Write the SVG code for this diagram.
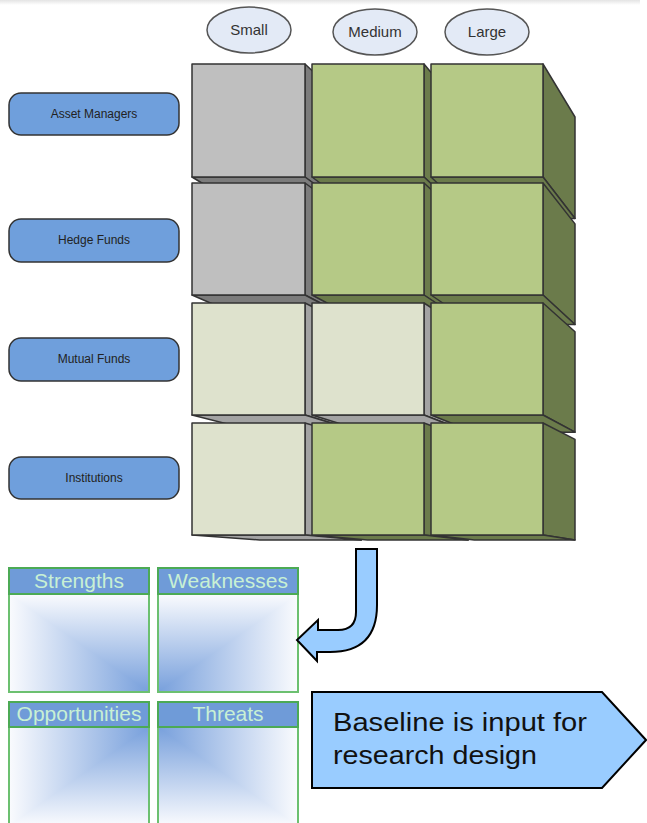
<svg xmlns="http://www.w3.org/2000/svg" width="647" height="823" viewBox="0 0 647 823">
<defs>
<linearGradient id="topbar" x1="0" y1="0" x2="0" y2="1"><stop offset="0" stop-color="#e4e4e4"/><stop offset="1" stop-color="#ffffff"/></linearGradient>
<linearGradient id="sH" gradientUnits="userSpaceOnUse" x1="9" y1="0" x2="149" y2="0"><stop offset="0" stop-color="#fafbfe"/><stop offset="1" stop-color="#78a0dc"/></linearGradient>
<linearGradient id="sV" gradientUnits="userSpaceOnUse" x1="0" y1="594" x2="0" y2="692"><stop offset="0" stop-color="#fafbfe"/><stop offset="1" stop-color="#78a0dc"/></linearGradient>
<linearGradient id="wH" gradientUnits="userSpaceOnUse" x1="298" y1="0" x2="158" y2="0"><stop offset="0" stop-color="#fafbfe"/><stop offset="1" stop-color="#78a0dc"/></linearGradient>
<linearGradient id="wV" gradientUnits="userSpaceOnUse" x1="0" y1="594" x2="0" y2="692"><stop offset="0" stop-color="#fafbfe"/><stop offset="1" stop-color="#78a0dc"/></linearGradient>
<linearGradient id="oH" gradientUnits="userSpaceOnUse" x1="9" y1="0" x2="149" y2="0"><stop offset="0" stop-color="#fafbfe"/><stop offset="1" stop-color="#78a0dc"/></linearGradient>
<linearGradient id="oV" gradientUnits="userSpaceOnUse" x1="0" y1="826" x2="0" y2="727"><stop offset="0" stop-color="#fafbfe"/><stop offset="1" stop-color="#78a0dc"/></linearGradient>
<linearGradient id="tH" gradientUnits="userSpaceOnUse" x1="298" y1="0" x2="158" y2="0"><stop offset="0" stop-color="#fafbfe"/><stop offset="1" stop-color="#78a0dc"/></linearGradient>
<linearGradient id="tV" gradientUnits="userSpaceOnUse" x1="0" y1="826" x2="0" y2="727"><stop offset="0" stop-color="#fafbfe"/><stop offset="1" stop-color="#78a0dc"/></linearGradient>
</defs>
<style>
.ell{fill:#e3eaf6;stroke:#555;stroke-width:1.5}
.ellt{font-family:"Liberation Sans",Arial,sans-serif;font-size:15px;fill:#333;text-anchor:middle}
.lbl{fill:#6f9fdc;stroke:#333;stroke-width:1.5}
.lblt{font-family:"Liberation Sans",Arial,sans-serif;font-size:12px;fill:#222;text-anchor:middle}
.f{stroke:#333;stroke-width:1.5;stroke-linejoin:round}
.gF{fill:#bfbfbf}.gS{fill:#7c7c7c}
.pF{fill:#dee2cd}.pS{fill:#a3a3a3}
.nF{fill:#b5c986}.nS{fill:#6b7b4b}
.frame{fill:none;stroke:#6cc070;stroke-width:2}
.hdr{fill:#6f9bd8;stroke:#4caa55;stroke-width:2}
.hdrt{font-family:"Liberation Sans",Arial,sans-serif;font-size:21px;fill:#c8f0d4;text-anchor:middle}
.blue{fill:#99ccff;stroke:#000;stroke-width:2;stroke-linejoin:miter}
.bt{font-family:"Liberation Sans",Arial,sans-serif;font-size:25px;fill:#111}
</style>
<rect x="0" y="0" width="640" height="5" fill="url(#topbar)"/>

<g id="size-small"><ellipse class="ell" cx="249" cy="30" rx="42" ry="23"/><text class="ellt" x="249" y="35">Small</text></g>
<g id="size-medium"><ellipse class="ell" cx="375" cy="32" rx="42" ry="23"/><text class="ellt" x="375" y="37">Medium</text></g>
<g id="size-large"><ellipse class="ell" cx="487" cy="32" rx="42" ry="23"/><text class="ellt" x="487" y="37">Large</text></g>

<g id="label-asset"><rect class="lbl" x="9" y="93" width="170" height="42" rx="12"/><text class="lblt" x="94" y="118">Asset Managers</text></g>
<g id="label-hedge"><rect class="lbl" x="9" y="219" width="170" height="43" rx="12"/><text class="lblt" x="94" y="244">Hedge Funds</text></g>
<g id="label-mutual"><rect class="lbl" x="9" y="338" width="170" height="43" rx="12"/><text class="lblt" x="94" y="363">Mutual Funds</text></g>
<g id="label-inst"><rect class="lbl" x="9" y="457" width="170" height="42" rx="12"/><text class="lblt" x="94" y="482">Institutions</text></g>

<!-- row 1 -->
<g id="cube-r1c1"><polygon class="f gS" points="305,64 361.3,117 361.3,218.5 305,177"/><polygon class="f gS" points="192,177 305,177 361.3,218.5 259.8,218.5"/><rect class="f gF" x="192" y="64" width="113" height="113"/></g>
<g id="cube-r1c2"><polygon class="f nS" points="424,64 468.2,117 468.2,218.5 424,177"/><polygon class="f nS" points="312,177 424,177 468.2,218.5 367.6,218.5"/><rect class="f nF" x="312" y="64" width="112" height="113"/></g>
<g id="cube-r1c3"><polygon class="f nS" points="543,64 575,117 575,218.5 543,177"/><polygon class="f nS" points="431,177 543,177 575,218.5 474.4,218.5"/><rect class="f nF" x="431" y="64" width="112" height="113"/></g>
<!-- row 2 -->
<g id="cube-r2c1"><polygon class="f gS" points="305,183 361.3,223.9 361.3,324.5 305,295"/><polygon class="f gS" points="192,295 305,295 361.3,324.5 259.8,324.5"/><rect class="f gF" x="192" y="183" width="113" height="112"/></g>
<g id="cube-r2c2"><polygon class="f nS" points="424,183 468.2,223.9 468.2,324.5 424,295"/><polygon class="f nS" points="312,295 424,295 468.2,324.5 367.6,324.5"/><rect class="f nF" x="312" y="183" width="112" height="112"/></g>
<g id="cube-r2c3"><polygon class="f nS" points="543,183 575,223.9 575,324.5 543,295"/><polygon class="f nS" points="431,295 543,295 575,324.5 474.4,324.5"/><rect class="f nF" x="431" y="183" width="112" height="112"/></g>
<!-- row 3 -->
<g id="cube-r3c1"><polygon class="f pS" points="305,303 361.3,331.7 361.3,432.2 305,415"/><polygon class="f pS" points="192,415 305,415 361.3,432.2 259.8,432.2"/><rect class="f pF" x="192" y="303" width="113" height="112"/></g>
<g id="cube-r3c2"><polygon class="f pS" points="424,303 468.2,331.7 468.2,432.2 424,415"/><polygon class="f pS" points="312,415 424,415 468.2,432.2 367.6,432.2"/><rect class="f pF" x="312" y="303" width="112" height="112"/></g>
<g id="cube-r3c3"><polygon class="f nS" points="543,303 575,331.7 575,432.2 543,415"/><polygon class="f nS" points="431,415 543,415 575,432.2 474.4,432.2"/><rect class="f nF" x="431" y="303" width="112" height="112"/></g>
<!-- row 4 -->
<g id="cube-r4c1"><polygon class="f pS" points="305,423 361.3,439.4 361.3,540 305,535"/><polygon class="f pS" points="192,535 305,535 361.3,540 259.8,540"/><rect class="f pF" x="192" y="423" width="113" height="112"/></g>
<g id="cube-r4c2"><polygon class="f nS" points="424,423 468.2,439.4 468.2,540 424,535"/><polygon class="f nS" points="312,535 424,535 468.2,540 367.6,540"/><rect class="f nF" x="312" y="423" width="112" height="112"/></g>
<g id="cube-r4c3"><polygon class="f nS" points="543,423 575,439.4 575,540 543,535"/><polygon class="f nS" points="431,535 543,535 575,540 474.4,540"/><rect class="f nF" x="431" y="423" width="112" height="112"/></g>

<g id="swot-strengths">
<rect x="9" y="594" width="140" height="98" fill="url(#sV)"/><polygon fill="url(#sH)" points="9,594 9,692 149,692"/>
<rect class="frame" x="9" y="568" width="140" height="124"/>
<rect class="hdr" x="9" y="568" width="140" height="26"/>
<text class="hdrt" x="79" y="588">Strengths</text>
</g>
<g id="swot-weaknesses">
<rect x="158" y="594" width="140" height="98" fill="url(#wV)"/><polygon fill="url(#wH)" points="298,594 298,692 158,692"/>
<rect class="frame" x="158" y="568" width="140" height="124"/>
<rect class="hdr" x="158" y="568" width="140" height="26"/>
<text class="hdrt" x="228" y="588">Weaknesses</text>
</g>
<g id="swot-opportunities">
<rect x="9" y="727" width="140" height="99" fill="url(#oV)"/><polygon fill="url(#oH)" points="149,727 9,727 9,826"/>
<rect class="frame" x="9" y="702" width="140" height="124"/>
<rect class="hdr" x="9" y="702" width="140" height="25"/>
<text class="hdrt" x="79" y="721">Opportunities</text>
</g>
<g id="swot-threats">
<rect x="158" y="727" width="140" height="99" fill="url(#tV)"/><polygon fill="url(#tH)" points="158,727 298,727 298,826"/>
<rect class="frame" x="158" y="702" width="140" height="124"/>
<rect class="hdr" x="158" y="702" width="140" height="25"/>
<text class="hdrt" x="228" y="721">Threats</text>
</g>

<g id="connectors">
<path class="blue" d="M356,549 H377 V605 Q377,652 330,652 H317 V661 L297,640 L318,620 V630 H338 Q356,630 356,612 Z"/>
</g>

<g id="baseline-arrow">
<polygon class="blue" points="312,692 602,692 646,740 602,788 312,788"/>
<text class="bt" x="333" y="731" textLength="254" lengthAdjust="spacingAndGlyphs">Baseline is input for</text>
<text class="bt" x="333" y="764" textLength="204" lengthAdjust="spacingAndGlyphs">research design</text>
</g>
</svg>
